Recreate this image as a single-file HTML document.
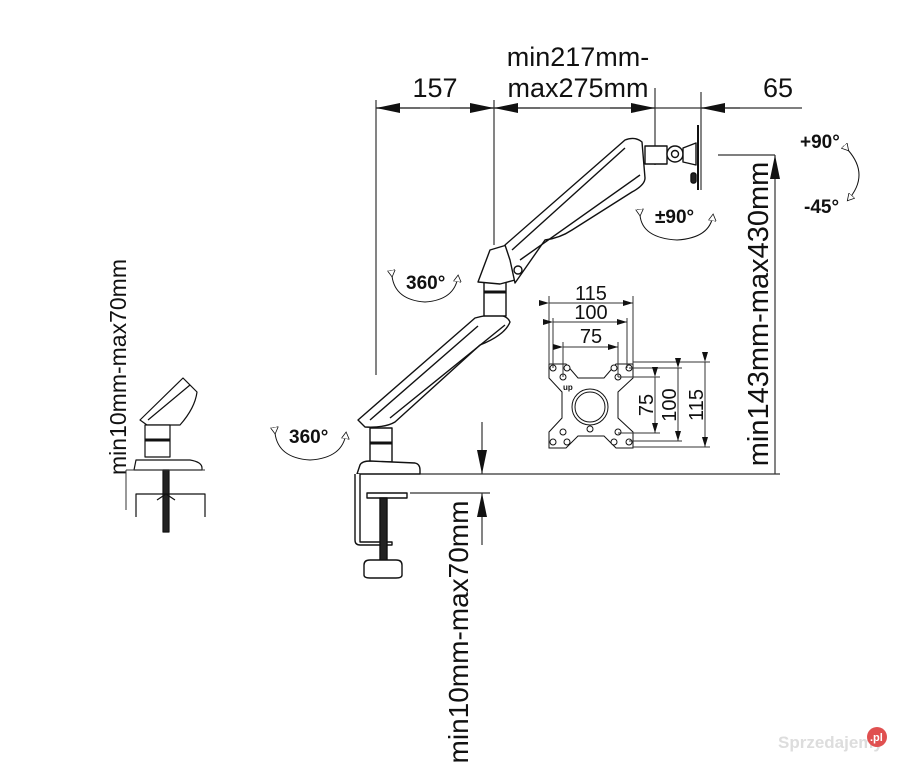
<!DOCTYPE html>
<html><head><meta charset="utf-8"><style>
html,body{margin:0;padding:0;background:#fff;}
svg{display:block;}
text{font-family:"Liberation Sans",sans-serif;fill:#111;}
</style></head><body>
<svg width="908" height="783" viewBox="0 0 908 783" xmlns="http://www.w3.org/2000/svg">
<defs>
<marker id="a" markerWidth="10" markerHeight="6" refX="10" refY="3" orient="auto" markerUnits="userSpaceOnUse"><path d="M0,0 L10,3 L0,6Z" fill="#111"/></marker>
<marker id="b" markerWidth="24" markerHeight="10" refX="24" refY="5" orient="auto" markerUnits="userSpaceOnUse"><path d="M0,0 L24,5 L0,10Z" fill="#111"/></marker>
<marker id="o" markerWidth="8" markerHeight="8" refX="6" refY="4" orient="auto" markerUnits="userSpaceOnUse"><path d="M0,0 L7,4 L0,8Z" fill="#fff" stroke="#111" stroke-width="0.8"/></marker>
</defs>
<g stroke="#333" stroke-width="1.2" fill="none">
<line x1="376" y1="100" x2="376" y2="375"/>
<line x1="494" y1="100" x2="494" y2="245"/>
<line x1="655" y1="88" x2="655" y2="165"/>
<line x1="701" y1="92" x2="701" y2="190"/>
<line x1="376" y1="108" x2="802" y2="108"/>
<line x1="420" y1="108" x2="376" y2="108" marker-end="url(#b)"/>
<line x1="450" y1="108" x2="494" y2="108" marker-end="url(#b)"/>
<line x1="540" y1="108" x2="494" y2="108" marker-end="url(#b)"/>
<line x1="610" y1="108" x2="655" y2="108" marker-end="url(#b)"/>
<line x1="740" y1="108" x2="701" y2="108" marker-end="url(#b)"/>
<line x1="718" y1="155" x2="775" y2="155"/>
<line x1="775" y1="474" x2="775" y2="155" marker-end="url(#b)"/>
<line x1="420" y1="474" x2="780" y2="474"/>
<line x1="482" y1="422" x2="482" y2="474" marker-end="url(#b)"/>
<line x1="482" y1="545" x2="482" y2="493" marker-end="url(#b)"/>
<line x1="410" y1="493" x2="490" y2="493"/>
</g>
<g stroke="#111" stroke-width="1.4" fill="#fff" stroke-linejoin="round">
<path d="M358,420 L475,318 Q505,310 510,322 Q505,335 480,345 L395,422 Q385,428 365,427Z"/>
<path d="M370,420 L478,326" fill="none"/>
<path d="M390,418 L505,325" fill="none"/>
<rect x="370" y="428" width="22" height="34"/>
<line x1="370" y1="443" x2="392" y2="443" stroke-width="3"/>
<path d="M357,474 L360,465 Q362,461 370,461 L415,463 Q420,464 420,470 L420,474Z"/>
<path d="M355,474 L355,540 Q355,545 360,545 L392,545 L392,542 L360,542 L360,474"/>
<rect x="367" y="493" width="40" height="5"/>
<rect x="380" y="498" width="7" height="65" fill="#222"/>
<path d="M364,565 Q364,560 370,560 L396,560 Q402,560 402,565 L402,575 Q402,578 396,578 L370,578 Q364,578 364,575Z"/>
<rect x="484" y="282" width="22" height="34"/>
<line x1="484" y1="292" x2="506" y2="292" stroke-width="3"/>
<path d="M478,282 L490,250 L510,244 L515,280 L500,284Z"/>
<path d="M505,245 L625,140 Q635,136 642,142 L645,178 Q645,185 632,192 L572,230 Q560,238 545,240 L515,283 L510,260Z"/>
<path d="M512,250 L625,148" fill="none"/>
<path d="M520,260 L640,175" fill="none"/>
<circle cx="518" cy="270" r="4"/>
<rect x="645" y="146" width="22" height="18"/>
<circle cx="675" cy="154" r="8"/>
<circle cx="675" cy="154" r="3.5"/>
<path d="M683,148 L696,143 L696,165 L683,162Z"/>
<line x1="698" y1="125" x2="698" y2="190" stroke-width="2"/>
<rect x="691" y="173" width="5" height="10" rx="2" fill="#222"/>
</g>
<g stroke="#111" stroke-width="1" fill="#fff">
<path d="M549,364 L566,364 L578,378 L604,378 L616,364 L633,364 L633,378 L618,392 L618,418 L633,432 L633,448 L616,448 L604,436 L578,436 L566,448 L549,448 L549,432 L562,418 L562,392 L549,378Z"/>
<circle cx="590" cy="407" r="18"/><circle cx="590" cy="407" r="15"/>
<g fill="#fff"><circle cx="553" cy="368" r="3"/><circle cx="567" cy="368" r="3"/><circle cx="614" cy="368" r="3"/><circle cx="629" cy="368" r="3"/>
<circle cx="563" cy="377" r="3"/><circle cx="618" cy="377" r="3"/><circle cx="563" cy="432" r="3"/><circle cx="590" cy="429" r="3"/><circle cx="618" cy="432" r="3"/>
<circle cx="553" cy="442" r="3"/><circle cx="567" cy="442" r="3"/><circle cx="614" cy="442" r="3"/><circle cx="629" cy="442" r="3"/></g>
</g>
<text x="563" y="390" font-size="8" font-weight="bold">up</text>
<g stroke="#333" stroke-width="1" fill="none">
<line x1="549" y1="296" x2="549" y2="364"/><line x1="633" y1="296" x2="633" y2="364"/>
<line x1="553" y1="318" x2="553" y2="368"/><line x1="627" y1="318" x2="627" y2="368"/>
<line x1="563" y1="342" x2="563" y2="377"/><line x1="618" y1="342" x2="618" y2="377"/>
<line x1="549" y1="303" x2="633" y2="303" marker-start="url(#a)" marker-end="url(#a)"/>
<line x1="553" y1="322" x2="627" y2="322" marker-start="url(#a)" marker-end="url(#a)"/>
<line x1="563" y1="347" x2="618" y2="347" marker-start="url(#a)" marker-end="url(#a)"/>
<line x1="633" y1="362" x2="710" y2="362"/><line x1="629" y1="368" x2="682" y2="368"/><line x1="618" y1="377" x2="660" y2="377"/>
<line x1="618" y1="433" x2="660" y2="433"/><line x1="629" y1="441" x2="682" y2="441"/><line x1="633" y1="447" x2="710" y2="447"/>
<line x1="655" y1="377" x2="655" y2="433" marker-start="url(#a)" marker-end="url(#a)"/>
<line x1="678" y1="368" x2="678" y2="441" marker-start="url(#a)" marker-end="url(#a)"/>
<line x1="705" y1="362" x2="705" y2="447" marker-start="url(#a)" marker-end="url(#a)"/>
</g>
<g font-size="20" text-anchor="middle">
<text x="591" y="300">115</text><text x="591" y="319">100</text><text x="591" y="343">75</text>
<text transform="translate(653,405) rotate(-90)">75</text>
<text transform="translate(676,405) rotate(-90)">100</text>
<text transform="translate(703,405) rotate(-90)">115</text>
</g>
<g stroke="#111" stroke-width="1" fill="none">
<path d="M392,276 Q395,300 425,302 Q455,300 458,276" marker-start="url(#o)" marker-end="url(#o)"/>
<path d="M275,433 Q278,458 310,460 Q343,458 346,433" marker-start="url(#o)" marker-end="url(#o)"/>
<path d="M640,215 Q642,238 677,240 Q710,238 713,215" marker-start="url(#o)" marker-end="url(#o)"/>
<path d="M848,150 Q870,175 848,200" marker-start="url(#o)" marker-end="url(#o)"/>
</g>
<g font-size="19" font-weight="bold">
<text x="406" y="289">360°</text>
<text x="289" y="443">360°</text>
<text x="655" y="223">±90°</text>
<text x="800" y="148">+90°</text>
<text x="804" y="213">-45°</text>
</g>
<g font-size="27">
<text x="435" y="97" text-anchor="middle">157</text>
<text x="578" y="66" text-anchor="middle">min217mm-</text>
<text x="578" y="97" text-anchor="middle">max275mm</text>
<text x="778" y="97" text-anchor="middle">65</text>
<text transform="translate(768,314) rotate(-90)" text-anchor="middle" font-size="29">min143mm-max430mm</text>
<text transform="translate(468,632) rotate(-90)" text-anchor="middle" font-size="28">min10mm-max70mm</text>
<text transform="translate(126,367) rotate(-90)" text-anchor="middle" font-size="23">min10mm-max70mm</text>
</g>
<g stroke="#111" stroke-width="1.2" fill="#fff" stroke-linejoin="round">
<path d="M140,420 L183,378 L197,392 Q195,408 180,425 L147,425Z"/>
<line x1="148" y1="420" x2="190" y2="385"/>
<rect x="145" y="425" width="25" height="32"/>
<line x1="145" y1="440" x2="170" y2="440" stroke-width="3"/>
<path d="M134,470 L136,460 L190,460 Q202,462 202,468 L202,470Z"/>
<rect x="163" y="470" width="6" height="62" fill="#222"/>
<path d="M136,517 L136,494 L205,494 L205,517" fill="none"/>
<path d="M157,500 L166,494 L175,500" fill="none"/>
</g>
<g stroke="#333" stroke-width="1"><line x1="126" y1="470" x2="205" y2="470"/><line x1="126" y1="470" x2="126" y2="510"/></g>
<text x="778" y="748" font-size="17" font-weight="bold" style="fill:#ddd">Sprzedajemy</text>
<circle cx="877" cy="737" r="10" fill="#e05050"/>
<text x="870" y="741" font-size="11" font-weight="bold" style="fill:#fff">.pl</text>
</svg>
</body></html>
